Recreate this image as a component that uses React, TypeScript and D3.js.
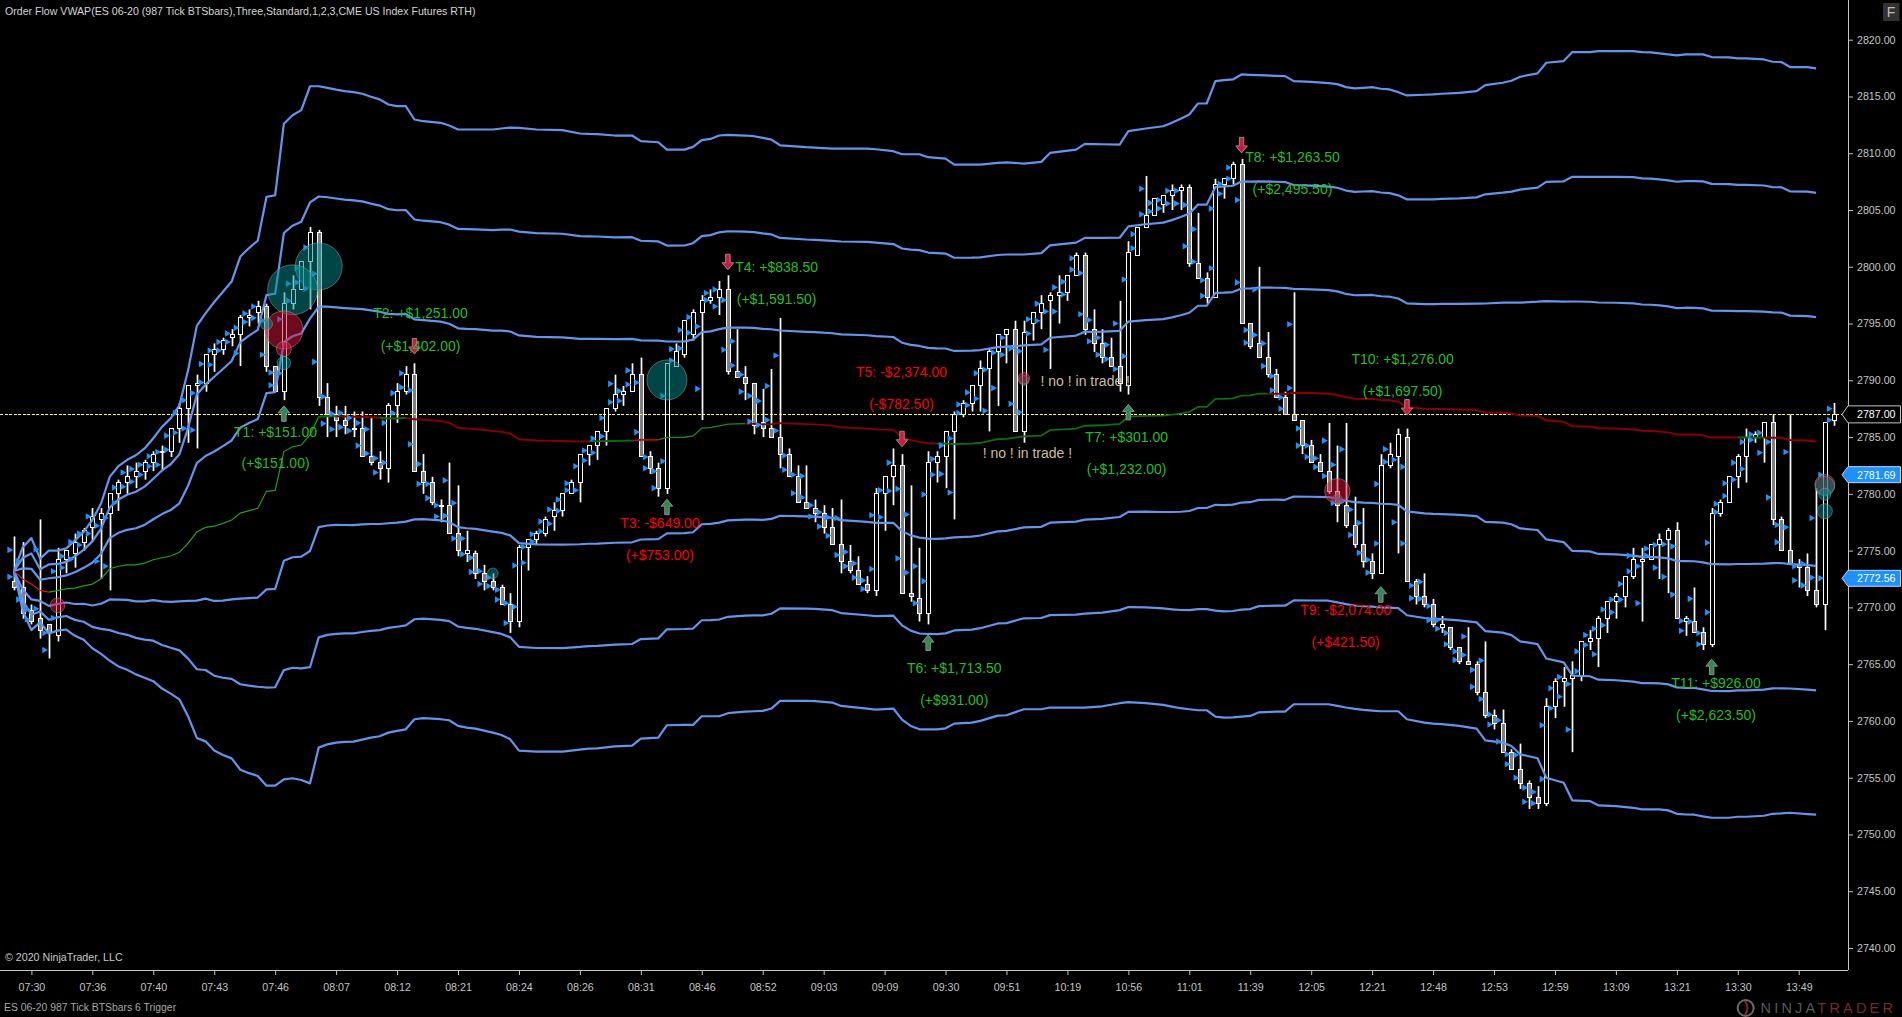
import React, { useEffect, useRef } from "react";
import * as d3 from "d3";

const W = 1902, H = 1017;
const title = "Order Flow VWAP(ES 06-20 (987 Tick BTSbars),Three,Standard,1,2,3,CME US Index Futures RTH)";
const copyright = "© 2020 NinjaTrader, LLC";
const footer = "ES 06-20 987 Tick BTSbars 6 Trigger";

const timeLabels = ["07:30","07:36","07:40","07:43","07:46","08:07","08:12","08:21","08:24","08:26","08:31","08:46","08:52","09:03","09:09","09:30","09:51","10:19","10:56","11:01","11:39","12:05","12:21","12:48","12:53","12:59","13:09","13:21","13:30","13:49"];
const priceTicks = [2740,2745,2750,2755,2760,2765,2770,2775,2780,2785,2790,2795,2800,2805,2810,2815,2820];

const barOpen = [
2772.25,2771.75,2769.75,2769,2768.5,2767.5,2774.25,2774.75,2775.75,2777,
2777.75,2778.25,2780,2781,2781.5,2782,2782.75,2783.75,2783.75,2785.75,
2787.5,2789.5,2789.75,2792.25,2792.75,2793.75,2794,2795.5,2796,2796.5,
2791.25,2789,2796.75,2798,2800.5,2803,2788.5,2787,2786.5,2785.75,
2785.75,2783.25,2782.75,2782.25,2787.75,2789,2790.5,2782,2781,2779,
2779,2776.5,2774.75,2774.75,2773,2772.25,2771.75,2770.25,2768.75,2775.25,
2776,2776.5,2778,2778.5,2780,2781,2783.5,2784.25,2785.5,2787.5,
2788.75,2789,2790.5,2783.25,2782.25,2780.5,2791.25,2792.25,2794,2796,
2797,2797.25,2798,2790.75,2790.25,2789.75,2786.25,2785.75,2785,2783.5,
2781.5,2779.25,2778.75,2778.25,2777,2775.5,2774,2773.25,2772,2771.5,
2780,2781.5,2782.5,2771.25,2770.75,2769.5,2782.75,2783.25,2785.5,2787,
2788,2789.5,2791,2792.5,2794,2794.5,2785.5,2795,2796,2797,
2797.5,2797.75,2799.25,2801,2794.5,2793.25,2792,2791.25,2789.5,2801,
2803.5,2804.5,2805.5,2806.25,2806.75,2807,2800.25,2799,2797.25,2807.25,
2807.75,2809,2795,2793.25,2792,2790.5,2788.5,2787,2786.5,2784.25,
2782.75,2782,2780.25,2779,2777.25,2775.5,2774,2773,2782.5,2783.25,
2785,2772.25,2771,2770.25,2768.25,2768.25,2766.5,2765.25,2765,2762.5,
2760.5,2759.75,2757.25,2755.75,2754.5,2753.25,2752.75,2761.25,2763.5,2763.75,
2764,2767,2767.25,2769,2770.5,2771,2772.75,2774,2774.25,2775.5,
2776,2776.75,2768.75,2768.75,2767.75,2766.75,2778.25,2779.25,2781.5,2783.25,
2785,2785,2786.25,2777.75,2775,2773.75,2773.5,2771.5,2770.25,2786.5];

const barHigh = [
2776.25,2775.75,2770.25,2777.75,2768.5,2775.25,2775,2776.5,2777,2778.75,
2778.75,2780,2781.25,2782.5,2782.75,2783,2783.75,2784.25,2785.75,2788,
2789.5,2790.5,2792.25,2793.25,2793.75,2794.5,2795.75,2796.25,2797,2796.75,
2791.25,2797.75,2799.25,2800.5,2803.5,2803.25,2789.75,2787.75,2787.75,2787.25,
2787.25,2786.75,2783.75,2788,2789.75,2791.25,2791.5,2783.5,2781.5,2779.5,
2782.75,2780.75,2776.75,2775,2773.75,2773,2772,2771.25,2775.5,2776,
2776.75,2778,2779.25,2780,2781.25,2783.5,2784.25,2785.5,2787.5,2790.5,
2789.5,2791.5,2792,2783.75,2782.75,2791.5,2793.25,2795.25,2796.25,2797.5,
2798,2798.75,2799.25,2794.5,2791.25,2789.75,2789.25,2791,2795.5,2784,
2782.5,2782.5,2779.5,2779,2778.75,2779.5,2775.5,2774.5,2772.75,2780.5,
2781.5,2784,2783.5,2780.75,2775.25,2783.75,2783.75,2785.5,2787.25,2788.25,
2789.5,2791.75,2792.75,2794,2794.5,2795.25,2795.25,2796,2797.5,2797.75,
2799.25,2799.25,2801.25,2801.25,2796.25,2794.5,2793.75,2797,2802.25,2803.5,
2808,2806,2806.25,2807.25,2807.25,2807.25,2804.75,2799.5,2807.75,2807.75,
2809.25,2809.5,2795,2800,2794.25,2791,2789,2797.75,2786.5,2784.75,
2783.5,2786.25,2784.25,2786.25,2779.75,2778.75,2774.75,2783.5,2784.5,2785.75,
2785.75,2772.5,2773,2770.75,2769.25,2768.25,2766.5,2768.25,2765.25,2767,
2761,2761,2757.5,2758,2754.75,2754.25,2762,2763.75,2764.75,2765.25,
2767,2768,2769.25,2770.5,2771.25,2772.75,2775.25,2775.25,2775.5,2776.5,
2777,2777.5,2769.25,2771.75,2768.25,2778.75,2779.5,2781.5,2783.5,2785.75,
2785.5,2786.25,2787,2778,2787,2774.25,2774.75,2780.5,2786.25,2788];

const barLow = [
2771.5,2769,2768.5,2767.25,2765.5,2767,2773,2773.5,2775,2775.75,
2772.5,2771.5,2778.5,2780,2780.5,2781.25,2782,2782,2783.25,2784.5,
2784.5,2784,2789,2790.75,2792.25,2793,2791.25,2794.75,2795,2790.75,
2789,2788.25,2796.25,2798,2796.25,2787.75,2785,2785,2785.25,2785,
2783.25,2782.5,2781.25,2781,2786.25,2788.75,2782,2780,2779,2777.5,
2776.5,2774.5,2774,2772.5,2771.5,2771.5,2770.25,2767.75,2768.25,2773.25,
2775.5,2776.25,2776.75,2778,2780,2779.25,2782.5,2783,2784.25,2787.25,
2787.75,2789,2783.25,2781.75,2779.75,2780,2791.25,2792,2793.5,2786.5,
2796.75,2795.75,2790.5,2790.25,2788.25,2785.25,2785,2785,2782.25,2781.5,
2779.25,2778.75,2777.5,2776.5,2775.5,2773,2773,2772,2771.25,2771,
2776.75,2779,2771.25,2770.5,2768.75,2768.5,2781,2780.5,2777.75,2786.75,
2787.25,2787.25,2785.5,2787.75,2791.5,2785.5,2784.5,2793.5,2794.5,2791,
2795,2797,2799.25,2794,2792.5,2791.5,2791.25,2789,2788.75,2801,
2803.5,2804.5,2804.75,2805,2805,2800,2799,2796.75,2797.25,2806,
2807.25,2795,2792.75,2792,2790.25,2788.5,2787,2786.5,2783.5,2782.75,
2782,2780,2777.5,2777,2775.25,2773.5,2772.5,2773,2782.25,2774.75,
2772.25,2770.25,2770,2768.25,2767.75,2766.25,2765,2765,2762.25,2760.25,
2759.25,2757.25,2755.75,2754,2752.25,2752.25,2752.5,2760.25,2761.25,2757.25,
2763.5,2766.25,2764.75,2767.75,2769,2770,2772.5,2768.75,2774.25,2772.5,
2771.25,2769,2767.5,2767.75,2766.25,2766.5,2778,2779.25,2780.5,2781,
2784.5,2782.75,2777.25,2775,2773.75,2771.75,2771,2770,2768,2786];

const barClose = [
2771.75,2769.5,2768.75,2768,2767.75,2774.25,2775,2775.75,2776.75,2778,
2778.25,2780,2781,2781.5,2782,2782.75,2783.5,2783.75,2785.75,2787.5,
2789.5,2789.75,2792.25,2792.75,2793.5,2794,2795.5,2795.75,2796.5,2791.25,
2789,2796.75,2798,2800.5,2803,2788.5,2787,2786.5,2786,2785.75,
2783.25,2782.75,2782.25,2787.75,2789,2790.5,2782,2781,2779.25,2779,
2776.5,2775,2775,2773,2772.25,2771.75,2770.25,2768.75,2775.25,2776,
2776.5,2777.75,2778.5,2780,2781,2783.5,2784.25,2785.5,2787.5,2788.75,
2789,2790.5,2783.25,2782.25,2780.5,2791.5,2792.5,2795.25,2796,2797,
2797.25,2798,2790.75,2790.25,2789.75,2786,2785.75,2785,2783.5,2781.5,
2779.25,2778.75,2778.25,2777,2775.5,2774,2773.25,2772,2771.5,2780,
2781.5,2782.5,2771.25,2771,2769.5,2782.75,2783.25,2785.5,2787,2788,
2789.5,2791,2792.5,2794,2794.5,2785.5,2794.25,2796,2796.75,2797.5,
2797.75,2799.25,2801,2794.5,2793.25,2792,2791.25,2789.75,2801.25,2803.5,
2804.5,2806,2806.25,2806.75,2807,2800.25,2799,2797.25,2807.25,2807.75,
2809,2795,2793,2792,2790.5,2788.5,2787,2786.5,2784.25,2782.75,
2782,2780.25,2779,2777.25,2775.5,2774,2773,2782.5,2783.5,2785.25,
2772.25,2771,2770.25,2768.5,2768.5,2766.5,2765.25,2765,2762.5,2760.5,
2759.75,2757.25,2755.75,2754.5,2753.25,2752.75,2761.25,2763.5,2763.75,2764,
2767,2767.25,2769,2770.5,2771,2772.75,2774.25,2774.25,2775.5,2776,
2776.75,2769,2769,2767.75,2766.75,2778.25,2779.25,2781.5,2783.25,2785,
2785.25,2786.25,2777.75,2775,2773.75,2773.5,2771.5,2770.25,2786.25,2787];

const bandBars = [
0,1,2,3,4,5,6,7,8,9,
10,11,12,13,14,15,16,17,18,19,
20,21,22,23,24,25,26,27,28,29,
30,31,32,33,34,35,36,37,38,39,
40,41,42,43,44,45,46,47,49,50,
51,52,53,55,56,57,58,60,63,65,
66,67,69,71,72,74,75,77,78,79,
80,81,82,84,85,86,87,88,91,92,
94,95,98,99,101,102,103,104,105,106,
107,108,110,111,113,114,116,118,119,122,
123,125,127,128,130,132,133,134,135,136,
137,138,139,140,141,142,143,145,146,147,
149,151,152,153,154,155,156,157,158,159,
160,162,163,164,166,168,169,171,172,173,
175,176,178,179,181,182,184,186,187,188,
189,190,191,192,193,194,195,197,198,199,
201,202,203,204,206,207];

const upperBand = [
2773.2,2775.3,2776.1,2774.3,2775,2775,2775.2,2775.9,2776.65,2777.7,
2779.15,2781.5,2782.45,2783,2783.4,2784,2784.9,2785.9,2786.65,2787.8,
2790.9,2794.8,2795.9,2796.9,2797.8,2798.7,2800.9,2801.65,2802.3,2806.15,
2806.3,2812.6,2813.35,2813.8,2815.9,2815.9,2815.76,2815.6,2815.47,2815.38,
2815.24,2814.97,2814.74,2814.29,2814.15,2814.15,2812.97,2812.82,2812.68,2812.44,
2812.09,2812.09,2812.09,2812.09,2812.18,2812.26,2812.24,2812.09,2812.03,2811.74,
2811.7,2811.68,2811.56,2811.56,2811.06,2810.97,2810.32,2810.32,2810.56,2811.15,
2811.26,2811.56,2811.62,2811.56,2811.5,2811.35,2811.2,2810.7,2810.53,2810.5,
2810.41,2810.41,2810.41,2810.35,2810.18,2809.91,2809.91,2809.91,2809.65,2809.59,
2809.53,2809,2809,2809,2809.15,2809.2,2809.09,2809.24,2810.03,2810.32,
2810.82,2810.79,2810.76,2811.94,2812.18,2812.38,2812.68,2813.03,2813.41,2814.38,
2814.38,2816.35,2816.44,2816.5,2816.94,2816.91,2816.88,2816.82,2816.79,2816.35,
2816.29,2816.18,2816.09,2815.82,2815.71,2815.76,2815.82,2815.68,2815.62,2815.38,
2815.09,2815.15,2815.18,2815.24,2815.32,2815.47,2816,2816.21,2816.38,2816.74,
2817.03,2817.97,2818.12,2818.91,2818.91,2819,2819,2819,2818.91,2818.88,
2818.79,2818.71,2818.62,2818.71,2818.71,2818.71,2818.47,2818.44,2818.35,2818.35,
2818.26,2818.06,2818.03,2817.59,2817.59,2817.47];

const lowerBand = [
2773.2,2769.7,2768,2768.7,2767.7,2767.95,2768.05,2767.5,2767.15,2766.4,
2765.9,2765.3,2764.8,2764.5,2764.1,2763.8,2763.5,2762.85,2762.4,2761.9,
2760.4,2758.5,2758.2,2757.4,2757,2756.7,2755.7,2755.4,2755.15,2754.3,
2754.3,2754.85,2754.95,2754.8,2754.5,2757.65,2757.94,2758.09,2758.15,2758.18,
2758.35,2758.53,2758.65,2758.97,2759.12,2759.26,2760.15,2760.24,2760.15,2760.06,
2759.56,2759.41,2759.32,2758.97,2758.76,2758.38,2757.38,2757.29,2757.29,2757.47,
2757.56,2757.59,2757.76,2757.82,2758.44,2758.53,2759.62,2759.65,2759.65,2760.41,
2760.41,2760.41,2760.68,2760.82,2760.85,2760.88,2761.09,2761.76,2761.76,2761.74,
2761.62,2761.32,2761.09,2761,2761.09,2760.12,2759.56,2759.26,2759.26,2759.26,
2759.35,2759.76,2759.85,2760,2760.47,2760.5,2761.03,2761.03,2761.18,2761.18,
2761.18,2761.29,2761.56,2761.65,2761.56,2761.41,2761.26,2761.12,2761.03,2760.94,
2760.94,2760.38,2760.29,2760.32,2760.38,2760.44,2760.76,2760.82,2760.82,2761.47,
2761.47,2761.47,2761.32,2761.18,2761.06,2760.97,2760.91,2760.85,2760.85,2760.85,
2760.15,2759.85,2759.76,2759.71,2759.56,2759.32,2758.29,2758.09,2757.79,2757.06,
2756.71,2755,2754.56,2753,2752.94,2752.56,2752.5,2752.35,2752.21,2752.21,
2752.21,2752.12,2751.82,2751.76,2751.74,2751.59,2751.47,2751.47,2751.56,2751.56,
2751.65,2751.82,2751.85,2751.91,2751.79,2751.74];

const bandSteps = [-3,-2,-1,1,2,3];

// which colour the middle VWAP line takes between two bars
const vwapRunStart = [0,4,35,37,42,45,66,71,74,84,106,144,198,201];
const vwapRunEnd   = [4,35,37,42,45,66,71,74,84,106,144,198,201,207];
const vwapRunColor = ["#e01010","#1f9f1f","#0a6a0a","#840000","#0a6a0a","#840000","#0a6a0a","#a80f0f","#1a8a1a","#8a0000","#0c6e0c","#8a0000","#0a6a0a","#8a0000"];
const vwapRunWidth = [1.2,1.2,2,2,2,2,2,1.6,1.3,1.8,1.8,2,2,2];

const bubbleBar   = [116,35,32,31,31,31,29,5,55,75,116,152,152,208,208,208,208];
const bubblePrice = [2790.0,2800.03,2797.97,2794.44,2792.76,2791.53,2794.97,2770.18,2773,2790.03,2790.18,2779.53,2780.24,2780.82,2780.68,2779.97,2778.47];
const bubbleSize  = [5,23.5,25,19,7.5,6.7,6,7.3,5.3,20,5.7,5,12.7,10,9.7,6,7.5];
const bubbleKind  = ["t","t","t","r","r","t","t","r","t","t","r","t","r","r","t","t","t"];

const arrowBar   = [31,46,75,82,102,105,128,141,157,160,195];
const arrowPrice = [2787.75,2792.32,2779.53,2799.74,2784.15,2767.56,2787.88,2810.03,2771.82,2786.94,2765.44];
const arrowUp    = [true,false,true,false,false,true,true,false,true,false,true];

const tradeNames  = ["T1: +$151.00","T2: +$1,251.00","T3: -$649.00","T4: +$838.50","T5: -$2,374.00","T6: +$1,713.50","T7: +$301.00","T8: +$1,263.50","T9: -$2,074.00","T10: +$1,276.00","T11: +$926.00"];
const tradeTotals = ["(+$151.00)","(+$1,402.00)","(+$753.00)","(+$1,591.50)","(-$782.50)","(+$931.00)","(+$1,232.00)","(+$2,495.50)","(+$421.50)","(+$1,697.50)","(+$2,623.50)"];
const tradeBar    = [30.04,46.7,74.2,87.6,101.95,108,127.8,146.85,152.96,159.5,195.5];
const tradePrice  = [2785.47,2795.93,2777.42,2799.95,2790.7,2764.62,2785,2809.67,2769.73,2791.87,2763.33];
const totalPrice  = [2782.68,2793.06,2774.6,2797.13,2787.88,2761.8,2782.15,2806.82,2766.91,2789.03,2760.48];
const tradeWon    = [true,true,false,true,false,true,true,true,false,true,true];

const noTradeText  = "! no ! in trade !";
const noTradeBar   = [116.4,123.05];
const noTradePrice = [2783.56,2789.93];

const lastPrice = 2787;
const flagPrices = [2781.69,2772.56];

const FONT = "'Liberation Sans', Arial, sans-serif";
const AXIS_X = 1848, AXIS_Y = 970;

const x = d3.scaleLinear().domain([0, 209]).range([14, 14 + 209 * 8.706]);
const y = d3.scaleLinear().domain([2740, 2820]).range([948, 39.7]);

export default function App() {
  const xRef = useRef<SVGGElement>(null);
  const yRef = useRef<SVGGElement>(null);

  useEffect(() => {
    const xAxis = d3.axisBottom(x)
      .tickValues(timeLabels.map((_, i) => 2 + 7 * i))
      .tickFormat((_, i) => timeLabels[i])
      .tickSize(5).tickPadding(8);
    const yAxis = d3.axisRight(y)
      .tickValues(priceTicks)
      .tickFormat((d) => d3.format(".2f")(d as number))
      .tickSize(5).tickPadding(4);
    for (const [ref, ax] of [[xRef, xAxis], [yRef, yAxis]] as any) {
      const g = d3.select(ref.current);
      g.call(ax);
      g.select(".domain").remove();
      g.selectAll("line").attr("stroke", "#c4c4c4");
      g.selectAll("text").attr("fill", "#c4c4c4").attr("font-family", FONT).attr("font-size", 10.67);
    }
  }, []);

  const bandLine = (k: number) =>
    d3.line<number>()
      .x((b) => x(b))
      .y((_, i) => y((upperBand[i] + lowerBand[i]) / 2 + (k * (upperBand[i] - lowerBand[i])) / 6))(bandBars) as string;

  const bars = barOpen.map((o, i) => ({ i, o, c: barClose[i], h: barHigh[i], l: barLow[i] }));

  return (
    <svg width={W} height={H} style={{ position: "absolute", left: 0, top: 0, background: "#000", display: "block" }} fontFamily={FONT}>
      <rect width={W} height={H} fill="#000" />
      <defs>
        {vwapRunStart.map((s, r) => (
          <clipPath id={`run${r}`} key={r}>
            <rect x={x(s)} y={0} width={x(vwapRunEnd[r]) - x(s)} height={AXIS_Y} />
          </clipPath>
        ))}
      </defs>

      {/* candles */}
      <g>
        {bars.map((b) => {
          const top = y(Math.max(b.o, b.c));
          const bot = y(Math.min(b.o, b.c));
          const down = b.c < b.o;
          const px = Math.round(x(b.i)) + 0.5;
          return (
            <g key={b.i}>
              <rect x={px - 0.85} y={y(b.h)} width={1.7} height={Math.max(y(b.l) - y(b.h), 1)} fill="#fff" />
              <rect x={px - 2} y={top} width={4} height={Math.max(bot - top, 1)} fill={down ? "#808080" : "#000"} stroke="#fff" strokeWidth={1} shapeRendering="crispEdges" />
            </g>
          );
        })}
      </g>

      {/* last price */}
      <line x1={0} x2={AXIS_X} y1={Math.round(y(lastPrice)) + 0.5} y2={Math.round(y(lastPrice)) + 0.5} stroke="#ffff40" strokeWidth={1} strokeDasharray="3 1.5" shapeRendering="crispEdges" />

      {/* VWAP deviation bands */}
      <g fill="none" stroke="#6495ed" strokeWidth={2.2} strokeLinejoin="round">
        {bandSteps.map((k) => <path key={k} d={bandLine(k)} />)}
      </g>
      <g fill="none">
        {vwapRunStart.map((_, r) => (
          <path key={r} d={bandLine(0)} stroke={vwapRunColor[r]} strokeWidth={vwapRunWidth[r]} clipPath={`url(#run${r})`} />
        ))}
      </g>

      {/* order-flow triangles sit at the quarter points of each bar's range */}
      <g fill="#1e90ff">
        {bars.flatMap((b) =>
          [0.25, 0.75].map((f) => {
            const py = y(b.h + (b.l - b.h) * f);
            const px = x(b.i);
            return <path key={`${b.i}-${f}`} d={`M${px - 6.6},${py - 3.3}L${px - 0.8},${py}L${px - 6.6},${py + 3.3}Z`} />;
          })
        )}
      </g>

      {/* bubbles */}
      <g>
        {bubbleBar.map((b, i) => (
          <circle key={i} cx={x(b)} cy={y(bubblePrice[i])} r={bubbleSize[i]}
            fill={bubbleKind[i] === "t" ? "rgba(0,140,140,0.5)" : "rgba(220,20,60,0.5)"}
            stroke="rgba(150,150,150,0.55)" strokeWidth={1} />
        ))}
      </g>

      {/* trade arrows */}
      <g stroke="#8f8f8f" strokeWidth={1}>
        {arrowBar.map((b, i) => {
          const cx = x(b), t = y(arrowPrice[i]);
          const s = arrowUp[i] ? 1 : -1;
          const p = [[0, 0], [5.8, 7], [2.2, 7], [2.2, 15.5], [-2.2, 15.5], [-2.2, 7], [-5.8, 7]]
            .map(([dx, dy]) => `${cx + dx},${t + s * dy}`).join(" ");
          return <polygon key={i} points={p} fill={arrowUp[i] ? "#2e8b57" : "#dc143c"} />;
        })}
      </g>

      {/* trade labels */}
      <g fontSize={14} textAnchor="middle" dominantBaseline="central">
        {tradeNames.map((t, i) => (
          <g key={t} fill={tradeWon[i] ? "#22bf22" : "#ff0000"}>
            <text x={x(tradeBar[i])} y={y(tradePrice[i])}>{t}</text>
            <text x={x(tradeBar[i])} y={y(totalPrice[i])}>{tradeTotals[i]}</text>
          </g>
        ))}
        {noTradeBar.map((b, i) => (
          <text key={i} x={x(b)} y={y(noTradePrice[i])} fill="#cdbba0">{noTradeText}</text>
        ))}
      </g>

      {/* frame and axes */}
      <line x1={AXIS_X + 0.5} x2={AXIS_X + 0.5} y1={0} y2={AXIS_Y} stroke="#c4c4c4" />
      <line x1={0} x2={AXIS_X} y1={AXIS_Y + 0.5} y2={AXIS_Y + 0.5} stroke="#c4c4c4" />
      <g ref={xRef} transform={`translate(0,${AXIS_Y})`} />
      <g ref={yRef} transform={`translate(${AXIS_X},0)`} />

      {/* price flags */}
      <g fontSize={10.67}>
        <path d={`M1842,${y(lastPrice)}L1848,${y(lastPrice) - 8.5}H1900.5V${y(lastPrice) + 8.5}H1848Z`} fill="#000" stroke="#c4c4c4" />
        <text x={1857} y={y(lastPrice)} dominantBaseline="central" fill="#fff">{d3.format(".2f")(lastPrice)}</text>
        {flagPrices.map((p) => (
          <g key={p}>
            <path d={`M1842,${y(p)}L1848,${y(p) - 8}H1900.5V${y(p) + 8}H1848Z`} fill="#1e90ff" stroke="#bcd8f5" />
            <text x={1857} y={y(p)} dominantBaseline="central" fill="#fff">{d3.format(".2f")(p)}</text>
          </g>
        ))}
      </g>

      {/* captions */}
      <text x={5} y={15} fontSize={10.6} fill="#d4d4d4">{title}</text>
      <text x={5} y={961} fontSize={10.67} fill="#c8c8c8">{copyright}</text>
      <text x={4} y={1011} fontSize={10.4} fill="#a8a8a8">{footer}</text>

      <rect x={1883} y={3} width={16.5} height={18} fill="#333" />
      <text x={1891} y={17} fontSize={14} fill="#bbb" textAnchor="middle">F</text>

      <circle cx={1745.7} cy={1008} r={8} fill="none" stroke="#6a6a6a" strokeWidth={2} />
      <path d="M1745,1001Q1750,1008 1745,1015" fill="none" stroke="#8a2222" strokeWidth={2} />
      <text x={1760.5} y={1013} fontSize={14.5} letterSpacing={3.2}>
        <tspan fill="#5a5a5a">NINJA</tspan>
        <tspan fill="#7a2a2a">TRADER</tspan>
      </text>
    </svg>
  );
}
